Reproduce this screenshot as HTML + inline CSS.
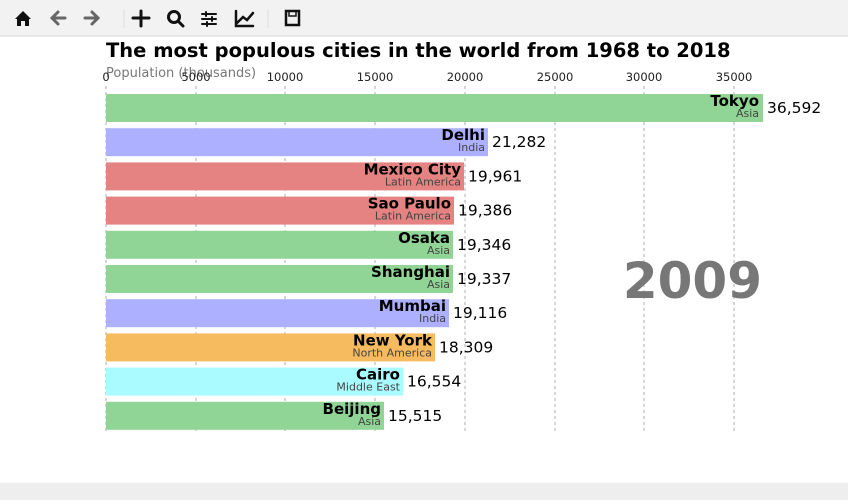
<!DOCTYPE html>
<html><head><meta charset="utf-8"><style>
body{margin:0;width:848px;height:500px;background:#fff;overflow:hidden;font-family:"DejaVu Sans","Liberation Sans",sans-serif}
</style></head><body>
<svg width="848" height="500" xmlns="http://www.w3.org/2000/svg" font-family="DejaVu Sans, Liberation Sans, sans-serif">
<rect x="0" y="0" width="848" height="36" fill="#f2f2f2"/>
<line x1="0" y1="36" x2="848" y2="36" stroke="#d8d8d8"/>
<g fill="#111">
<path d="M15 19 L23 11 L31 19 L29 19 L29 26 L25 26 L25 21 L21 21 L21 26 L17 26 L17 19Z"/>
</g>
<g stroke-width="3" fill="none" stroke-linecap="round">
<path d="M52 18 H65 M58 12 L52 18 L58 24" stroke="#666"/>
<path d="M85 18 H98 M92 12 L98 18 L92 24" stroke="#666"/>
<path d="M141 11 V26 M133 18 H149" stroke="#111"/>
<circle cx="174" cy="17" r="5.5" stroke="#111"/><path d="M178 21 L183 26" stroke="#111"/>
<path d="M202 14 H216 M202 19 H216 M202 24 H216" stroke="#111" stroke-width="2"/>
<path d="M206 12 V16 M212 17 V21 M207 22 V26" stroke="#111" stroke-width="2"/>
<path d="M236 11 V26 H253 M237 23 L243 17 L247 20 L253 13" stroke="#111" stroke-width="2.5"/>
<rect x="286" y="11" width="13" height="14" stroke="#111" stroke-width="2.5"/>
<path d="M289 12 V16 H296 V12" stroke="#111" stroke-width="1.5"/>
</g>
<path d="M124 9 V28 M268 9 V28" stroke="#ddd"/>
<rect x="0" y="483" width="848" height="17" fill="#eeeeee"/>
<text x="106" y="57" font-size="19.5" font-weight="bold" fill="#000">The most populous cities in the world from 1968 to 2018</text>
<text x="106" y="77" font-size="13" fill="#777">Population (thousands)</text>
<g font-size="11.5" fill="#222" text-anchor="middle">
<text x="106" y="81">0</text><text x="196" y="81">5000</text><text x="285" y="81">10000</text><text x="375" y="81">15000</text><text x="465" y="81">20000</text><text x="555" y="81">25000</text><text x="644" y="81">30000</text><text x="734" y="81">35000</text>
</g>
<g stroke="#999" stroke-dasharray="3,3" stroke-width="0.8">
<line x1="106" y1="86" x2="106" y2="433"/><line x1="196" y1="86" x2="196" y2="433"/><line x1="285" y1="86" x2="285" y2="433"/><line x1="375" y1="86" x2="375" y2="433"/><line x1="465" y1="86" x2="465" y2="433"/><line x1="555" y1="86" x2="555" y2="433"/><line x1="644" y1="86" x2="644" y2="433"/><line x1="734" y1="86" x2="734" y2="433"/>
</g>
<text x="762" y="298" font-size="50" font-weight="bold" fill="#777" text-anchor="end">2009</text>
<g font-size="15" text-anchor="end">
<rect x="106" y="94" width="657" height="28" fill="#90d595"/><text x="759" y="106" font-weight="bold">Tokyo</text><text x="759" y="117" font-size="11" fill="#444">Asia</text><text x="767" y="113" text-anchor="start" font-size="15.5">36,592</text>
<rect x="106" y="128.2" width="382" height="28" fill="#adb0ff"/><text x="485" y="140.2" font-weight="bold">Delhi</text><text x="485" y="151.2" font-size="11" fill="#444">India</text><text x="492" y="147.2" text-anchor="start" font-size="15.5">21,282</text>
<rect x="106" y="162.4" width="358" height="28" fill="#e48381"/><text x="461" y="174.4" font-weight="bold">Mexico City</text><text x="461" y="185.4" font-size="11" fill="#444">Latin America</text><text x="468" y="181.4" text-anchor="start" font-size="15.5">19,961</text>
<rect x="106" y="196.6" width="348" height="28" fill="#e48381"/><text x="451" y="208.6" font-weight="bold">Sao Paulo</text><text x="451" y="219.6" font-size="11" fill="#444">Latin America</text><text x="458" y="215.6" text-anchor="start" font-size="15.5">19,386</text>
<rect x="106" y="230.8" width="347" height="28" fill="#90d595"/><text x="450" y="242.8" font-weight="bold">Osaka</text><text x="450" y="253.8" font-size="11" fill="#444">Asia</text><text x="457" y="249.8" text-anchor="start" font-size="15.5">19,346</text>
<rect x="106" y="265" width="347" height="28" fill="#90d595"/><text x="450" y="277" font-weight="bold">Shanghai</text><text x="450" y="288" font-size="11" fill="#444">Asia</text><text x="457" y="284" text-anchor="start" font-size="15.5">19,337</text>
<rect x="106" y="299.2" width="343" height="28" fill="#adb0ff"/><text x="446" y="311.2" font-weight="bold">Mumbai</text><text x="446" y="322.2" font-size="11" fill="#444">India</text><text x="453" y="318.2" text-anchor="start" font-size="15.5">19,116</text>
<rect x="106" y="333.4" width="329" height="28" fill="#f7bb5f"/><text x="432" y="345.4" font-weight="bold">New York</text><text x="432" y="356.4" font-size="11" fill="#444">North America</text><text x="439" y="352.4" text-anchor="start" font-size="15.5">18,309</text>
<rect x="106" y="367.6" width="297" height="28" fill="#aafbff"/><text x="400" y="379.6" font-weight="bold">Cairo</text><text x="400" y="390.6" font-size="11" fill="#444">Middle East</text><text x="407" y="386.6" text-anchor="start" font-size="15.5">16,554</text>
<rect x="106" y="401.8" width="278" height="28" fill="#90d595"/><text x="381" y="413.8" font-weight="bold">Beijing</text><text x="381" y="424.8" font-size="11" fill="#444">Asia</text><text x="388" y="420.8" text-anchor="start" font-size="15.5">15,515</text>
</g>
</svg>
</body></html>
